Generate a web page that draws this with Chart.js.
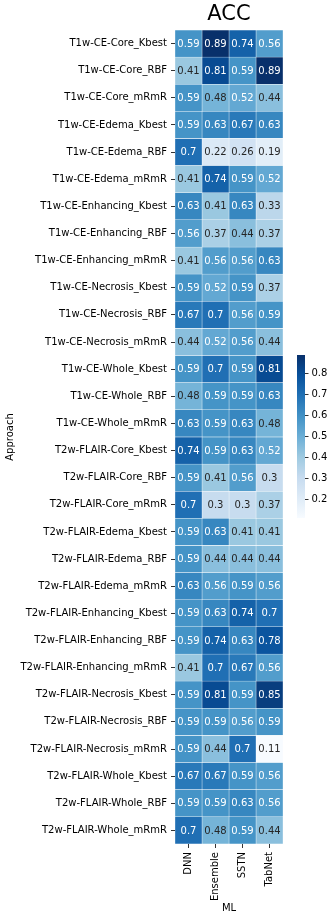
<!DOCTYPE html>
<html>
<head>
<meta charset="utf-8">
<script src="https://cdn.jsdelivr.net/npm/chart.js@4.4.0/dist/chart.umd.min.js"></script>
<style>
	html, body { margin: 0; padding: 0; background: #fff; }
	#wrap { position: relative; width: 335px; height: 921px; }
	#heat { position: absolute; left: 0; top: 0; }
	#cbar { position: absolute; left: 280px; top: 330px; }
</style>
</head>
<body>
<div id="wrap">
	<canvas id="heat" width="335" height="921"></canvas>
	<canvas id="cbar" width="55" height="210"></canvas>
</div>
<script>
'use strict';

var approaches = [
	'T1w-CE-Core_Kbest', 'T1w-CE-Core_RBF', 'T1w-CE-Core_mRmR',
	'T1w-CE-Edema_Kbest', 'T1w-CE-Edema_RBF', 'T1w-CE-Edema_mRmR',
	'T1w-CE-Enhancing_Kbest', 'T1w-CE-Enhancing_RBF', 'T1w-CE-Enhancing_mRmR',
	'T1w-CE-Necrosis_Kbest', 'T1w-CE-Necrosis_RBF', 'T1w-CE-Necrosis_mRmR',
	'T1w-CE-Whole_Kbest', 'T1w-CE-Whole_RBF', 'T1w-CE-Whole_mRmR',
	'T2w-FLAIR-Core_Kbest', 'T2w-FLAIR-Core_RBF', 'T2w-FLAIR-Core_mRmR',
	'T2w-FLAIR-Edema_Kbest', 'T2w-FLAIR-Edema_RBF', 'T2w-FLAIR-Edema_mRmR',
	'T2w-FLAIR-Enhancing_Kbest', 'T2w-FLAIR-Enhancing_RBF', 'T2w-FLAIR-Enhancing_mRmR',
	'T2w-FLAIR-Necrosis_Kbest', 'T2w-FLAIR-Necrosis_RBF', 'T2w-FLAIR-Necrosis_mRmR',
	'T2w-FLAIR-Whole_Kbest', 'T2w-FLAIR-Whole_RBF', 'T2w-FLAIR-Whole_mRmR'
];

var models = ['DNN', 'Ensemble', 'SSTN', 'TabNet'];

// ACC per model, one value per approach (same order as above)
var accDNN = [0.59, 0.41, 0.59, 0.59, 0.7, 0.41, 0.63, 0.56, 0.41, 0.59,
	0.67, 0.44, 0.59, 0.48, 0.63, 0.74, 0.59, 0.7, 0.59, 0.59,
	0.63, 0.59, 0.59, 0.41, 0.59, 0.59, 0.59, 0.67, 0.59, 0.7];
var accEnsemble = [0.89, 0.81, 0.48, 0.63, 0.22, 0.74, 0.41, 0.37, 0.56, 0.52,
	0.7, 0.52, 0.7, 0.59, 0.59, 0.59, 0.41, 0.3, 0.63, 0.44,
	0.56, 0.63, 0.74, 0.7, 0.81, 0.59, 0.44, 0.67, 0.59, 0.48];
var accSSTN = [0.74, 0.59, 0.52, 0.67, 0.26, 0.59, 0.63, 0.44, 0.56, 0.59,
	0.56, 0.56, 0.59, 0.59, 0.63, 0.63, 0.56, 0.3, 0.41, 0.44,
	0.59, 0.74, 0.63, 0.67, 0.59, 0.56, 0.7, 0.59, 0.63, 0.59];
var accTabNet = [0.56, 0.89, 0.44, 0.63, 0.19, 0.52, 0.33, 0.37, 0.63, 0.37,
	0.59, 0.44, 0.81, 0.63, 0.48, 0.52, 0.3, 0.37, 0.41, 0.44,
	0.56, 0.7, 0.78, 0.56, 0.85, 0.59, 0.11, 0.56, 0.56, 0.44];

var colorbarTicks = [0.2, 0.3, 0.4, 0.5, 0.6, 0.7, 0.8];

var accByModel = [accDNN, accEnsemble, accSSTN, accTabNet],
	allValues = [].concat.apply([], accByModel),
	vmin = Math.min.apply(null, allValues),
	vmax = Math.max.apply(null, allValues);

// matplotlib "Blues" anchors
var BLUES = [
	[247, 251, 255], [222, 235, 247], [198, 219, 239], [158, 202, 225],
	[107, 174, 214], [66, 146, 198], [33, 113, 181], [8, 81, 156], [8, 48, 107]
];

function rgb(c) {
	return 'rgb(' + c.map(Math.round).join(',') + ')';
}

function blues(v) {
	var t = Math.max(0, Math.min(1, (v - vmin) / (vmax - vmin))) * (BLUES.length - 1),
		i = Math.min(Math.floor(t), BLUES.length - 2),
		f = t - i;
	return BLUES[i].map(function (c, k) {
		return c + (BLUES[i + 1][k] - c) * f;
	});
}

// same rule seaborn uses to pick the annotation colour
function textColor(v) {
	var lin = blues(v).map(function (c) {
			c /= 255;
			return c <= 0.03928 ? c / 12.92 : Math.pow((c + 0.055) / 1.055, 2.4);
		}),
		lum = 0.2126 * lin[0] + 0.7152 * lin[1] + 0.0722 * lin[2];
	return lum > 0.408 ? '#262626' : '#ffffff';
}

Chart.defaults.font.family = "'DejaVu Sans', sans-serif";
Chart.defaults.font.size = 10;
Chart.defaults.color = '#000';

var cellLabels = {
	id: 'cellLabels',
	afterDatasetsDraw: function (chart) {
		var ctx = chart.ctx;
		ctx.save();
		ctx.font = "10px 'DejaVu Sans', sans-serif";
		ctx.textAlign = 'center';
		ctx.textBaseline = 'middle';
		chart.data.datasets.forEach(function (ds, i) {
			chart.getDatasetMeta(i).data.forEach(function (bar, j) {
				var v = ds.acc[j];
				ctx.fillStyle = textColor(v);
				ctx.fillText(String(v), (bar.x + bar.base) / 2, bar.y + 0.5);
			});
		});
		ctx.restore();
	}
};

var datasets = models.map(function (name, m) {
	var acc = accByModel[m];
	return {
		label: name,
		acc: acc,
		data: acc.map(function () { return 1; }),
		backgroundColor: function (ctx) {
			return rgb(blues(acc[ctx.dataIndex]));
		},
		borderColor: '#ffffff',
		borderWidth: 0.5,
		borderSkipped: false,
		barPercentage: 1,
		categoryPercentage: 1
	};
});

new Chart(document.getElementById('heat'), {
	type: 'bar',
	data: {
		labels: approaches,
		datasets: datasets
	},
	plugins: [cellLabels],
	options: {
		indexAxis: 'y',
		responsive: false,
		animation: false,
		devicePixelRatio: 1,
		layout: { padding: { top: 0, right: 52, bottom: 0, left: 0 } },
		plugins: {
			legend: { display: false },
			tooltip: { enabled: false },
			title: {
				display: true,
				text: 'ACC',
				fullSize: false,
				color: '#000',
				font: { size: 21, weight: 'normal' },
				padding: { top: 2, bottom: 2.8 }
			}
		},
		scales: {
			x: {
				type: 'linear',
				stacked: true,
				min: 0,
				max: models.length,
				afterBuildTicks: function (scale) {
					scale.ticks = models.map(function (m, i) {
						return { value: i + 0.5 };
					});
				},
				afterFit: function (scale) {
					scale.height = 77;
				},
				ticks: {
					autoSkip: false,
					minRotation: 90,
					maxRotation: 90,
					padding: 4,
					callback: function (value) {
						return models[Math.floor(value)];
					}
				},
				grid: { drawOnChartArea: false, tickLength: 4, tickColor: '#333', tickWidth: 1 },
				border: { display: false },
				title: { display: true, text: 'ML', padding: { top: 7, bottom: 7 } }
			},
			y: {
				stacked: true,
				afterFit: function (scale) {
					scale.width = 175;
				},
				ticks: { autoSkip: false, padding: 4 },
				grid: { drawOnChartArea: false, offset: false, tickLength: 4, tickColor: '#333', tickWidth: 1 },
				border: { display: false },
				title: { display: true, text: 'Approach', padding: 4 }
			}
		}
	}
});

// colour bar drawn as one floating bar on its own value axis
function gradientFill(ctx) {
	var chart = ctx.chart,
		y = chart.scales.y,
		g;
	if (!chart.chartArea || !y) {
		return rgb(BLUES[4]);
	}
	g = chart.ctx.createLinearGradient(0, y.getPixelForValue(vmin), 0, y.getPixelForValue(vmax));
	BLUES.forEach(function (c, i) {
		g.addColorStop(i / (BLUES.length - 1), rgb(c));
	});
	return g;
}

new Chart(document.getElementById('cbar'), {
	type: 'bar',
	data: {
		labels: [''],
		datasets: [{
			data: [[vmin, vmax]],
			backgroundColor: gradientFill,
			borderWidth: 0,
			barPercentage: 1,
			categoryPercentage: 1
		}]
	},
	options: {
		responsive: false,
		animation: false,
		devicePixelRatio: 1,
		layout: { padding: { left: 17, top: 25, bottom: 22, right: 0 } },
		plugins: {
			legend: { display: false },
			tooltip: { enabled: false }
		},
		scales: {
			x: { display: false },
			y: {
				position: 'right',
				min: vmin,
				max: vmax,
				afterBuildTicks: function (scale) {
					scale.ticks = colorbarTicks.map(function (v) {
						return { value: v };
					});
				},
				afterFit: function (scale) {
					scale.width = 30;
				},
				ticks: {
					padding: 3,
					callback: function (value) {
						return value.toFixed(1);
					}
				},
				grid: { drawOnChartArea: false, tickLength: 3.5, tickColor: '#333', tickWidth: 1 },
				border: { display: false }
			}
		}
	}
});
</script>
</body>
</html>
